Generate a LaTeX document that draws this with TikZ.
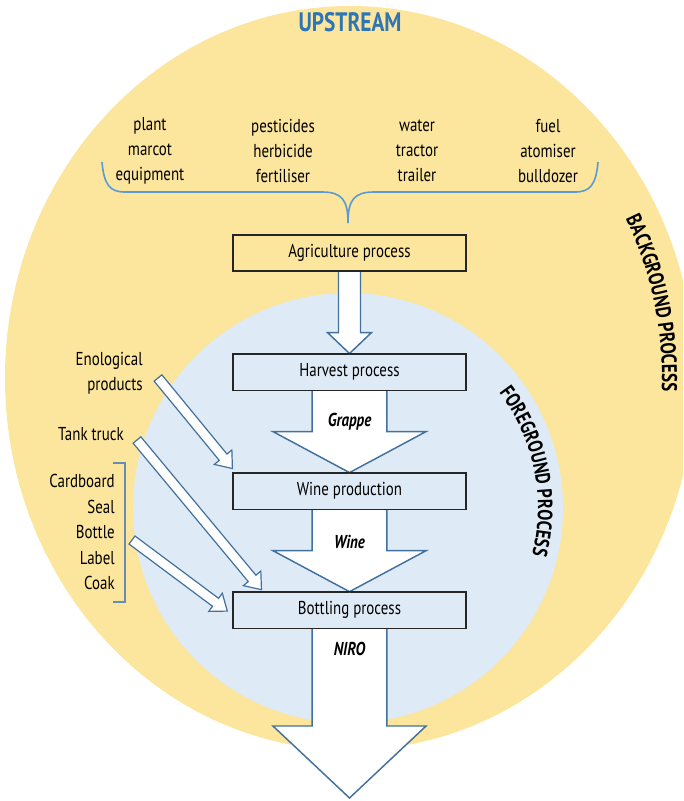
\documentclass[tikz,border=0pt]{standalone}
\usepackage{fontspec}
\setmainfont[FakeStretch=0.8]{PT Sans}
\usetikzlibrary{calc, positioning, decorations.text}
\definecolor{bgyellow}{HTML}{FCE59C}
\definecolor{fgblue}{HTML}{DEEBF7}
\definecolor{arrowblue}{HTML}{41719C}
\definecolor{braceblue}{HTML}{5B9BD5}
\definecolor{upblue}{HTML}{2E75B6}
\definecolor{boxline}{HTML}{262626}
\tikzset{
  procbox/.style={draw=boxline, line width=0.8pt, minimum width=174.75pt, minimum height=27pt, inner sep=0pt, font=\fontsize{14}{17}\selectfont},
  flowarrow/.style={draw=arrowblue, fill=white, line width=1.1pt, line join=miter},
  flowlabel/.style={inner sep=0pt, font=\fontsize{14}{17}\selectfont\bfseries\itshape},
  listtext/.style={inner sep=0pt, font=\fontsize{14}{18.75}\selectfont},
}
% block arrow going down: from, to, half shaft, half head, head length
\newcommand{\flowdown}[5]{%
  \draw[flowarrow] let \p1=(#1), \p2=(#2) in
    (\x1-#3,\y1) -- (\x1-#3,\y2+#5) -- (\x1-#4,\y2+#5) -- (\x1,\y2)
    -- (\x1+#4,\y2+#5) -- (\x1+#3,\y2+#5) -- (\x1+#3,\y1);}
% slanted input arrow
\newcommand{\inarrow}[2]{%
  \draw[flowarrow, line width=0.9pt] let \p1=(#1), \p2=(#2),
    \n1={atan2(\y2-\y1,\x2-\x1)}, \n2={veclen(\x2-\x1,\y2-\y1)} in
    [shift={(\p1)}, rotate=\n1]
    (0pt,-3.75pt) -- (\n2-11pt,-3.75pt) -- (\n2-11pt,-8.5pt) -- (\n2,0pt)
    -- (\n2-11pt,8.5pt) -- (\n2-11pt,3.75pt) -- (0pt,3.75pt) -- cycle;}

\begin{document}
\begin{tikzpicture}[x=0.75pt, y=-0.75pt, node distance=61.5pt]
  \useasboundingbox (0,0) rectangle (683,801);
  \clip (0,0) rectangle (683,801);

  % background and foreground
  \fill[bgyellow] (350,378) ellipse [x radius=345, y radius=372];
  \fill[fgblue] (348,508) circle [radius=215];

  \node[text=upblue, font=\fontsize{20}{22}\selectfont\bfseries] (upstream) at (350,22) {UPSTREAM};

  \path[decorate, decoration={text along path, text align=center,
      text={|\fontsize{16}{18}\selectfont\bfseries|BACKGROUND PROCESS}}]
    (350,378) ++(-40:312 and 340) arc[start angle=-40, end angle=14, x radius=312, y radius=340];
  \path[decorate, decoration={text along path, text align=center,
      text={|\fontsize{15.5}{18}\selectfont\bfseries|FOREGROUND PROCESS}}]
    (348,508) ++(-45:190) arc[start angle=-45, end angle=22, radius=190];

  % upstream inputs
  \node[listtext, align=center] (plant) at (150,151) {plant\\marcot\\equipment};
  \node[listtext, align=center] (pest) at (283,151) {pesticides\\herbicide\\fertiliser};
  \node[listtext, align=center] (water) at (417,151) {water\\tractor\\trailer};
  \node[listtext, align=center] (fuel) at (548,151) {fuel\\atomiser\\bulldozer};
  \draw[braceblue, line width=1.2pt] (102,162) .. controls (104,185) and (110,192) .. (125,192)
    -- (322,192) .. controls (342,192) and (348,200) .. (348,223)
    .. controls (348,200) and (354,192) .. (374,192) -- (575,192)
    .. controls (590,192) and (596,185) .. (598,162);

  % process chain
  \node[procbox, fill=bgyellow] (agri) at (349.5,253) {Agriculture process};
  \node[procbox, fill=fgblue, below=of agri] (harv) {Harvest process};
  \node[procbox, fill=fgblue, below=of harv] (wine) {Wine production};
  \node[procbox, fill=fgblue, below=of wine] (bott) {Bottling process};
  \coordinate (out) at (349.5,798);

  \flowdown{agri.south}{harv.north}{8.25pt}{16.5pt}{15.75pt}
  \flowdown{harv.south}{wine.north}{28pt}{57.4pt}{30.75pt}
  \flowdown{wine.south}{bott.north}{28pt}{57.4pt}{30.75pt}
  \flowdown{bott.south}{out}{28pt}{57.4pt}{54pt}
  \draw[boxline, line width=0.8pt] (agri.south west) rectangle (agri.north east);
  \draw[boxline, line width=0.8pt] (harv.south west) rectangle (harv.north east);
  \draw[boxline, line width=0.8pt] (wine.south west) rectangle (wine.north east);
  \draw[boxline, line width=0.8pt] (bott.south west) rectangle (bott.north east);

  \node[flowlabel, below=17pt of harv] (grappe) {Grappe};
  \node[flowlabel, below=19pt of wine] (winelbl) {Wine};
  \node[flowlabel, below=10pt of bott] (niro) {NIRO};

  % foreground inputs
  \node[listtext, align=right, anchor=east] (enol) at (143,373.5) {Enological\\products};
  \node[listtext, align=right, anchor=east] (tank) at (124,434) {Tank truck};
  \node[listtext, align=right, anchor=east, font=\fontsize{14}{19.1}\selectfont] (pack) at (115,532) {Cardboard\\Seal\\Bottle\\Label\\Coak};
  \draw[arrowblue!80, line width=0.8pt] (113,463) -- (125,463) -- (125,602) -- (113,602);

  \coordinate (enolstart) at (158,378);
  \coordinate (tankstart) at (137,440);
  \coordinate (packstart) at (132,540);
  \coordinate (enolend) at ($(wine.north west)+(0,-4)$);
  \coordinate (tankend) at ($(bott.north west)+(29,-2)$);
  \coordinate (packend) at ($(bott.west)+(-5,1)$);
  \inarrow{enolstart}{enolend}
  \inarrow{tankstart}{tankend}
  \inarrow{packstart}{packend}
\end{tikzpicture}
\end{document}
